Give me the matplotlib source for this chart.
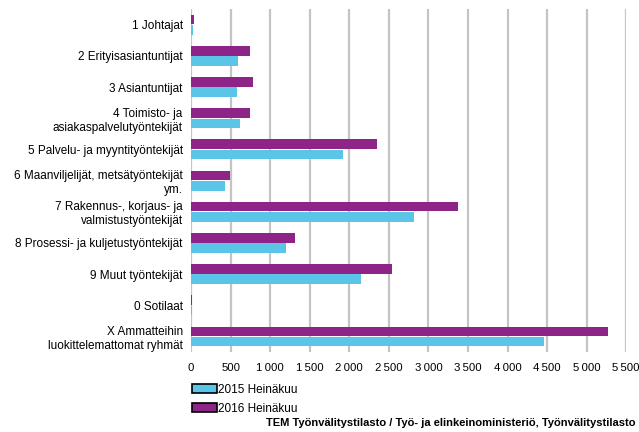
import matplotlib
matplotlib.use("Agg")
import matplotlib.pyplot as plt
import numpy as np
from matplotlib.ticker import FuncFormatter, MultipleLocator
from matplotlib.patches import Patch

plt.rcParams['font.family'] = ['Liberation Sans', 'DejaVu Sans']

categories = [
    "1 Johtajat",
    "2 Erityisasiantuntijat",
    "3 Asiantuntijat",
    "4 Toimisto- ja\nasiakaspalvelutyöntekijät",
    "5 Palvelu- ja myyntityöntekijät",
    "6 Maanviljelijät, metsätyöntekijät\nym.",
    "7 Rakennus-, korjaus- ja\nvalmistustyöntekijät",
    "8 Prosessi- ja kuljetustyöntekijät",
    "9 Muut työntekijät",
    "0 Sotilaat",
    "X Ammatteihin\nluokittelemattomat ryhmät",
]
values_2015 = [20, 595, 582, 620, 1922, 430, 2822, 1203, 2142, 12, 4456]
values_2016 = [40, 747, 785, 747, 2346, 494, 3380, 1316, 2542, 8, 5266]
series_labels = ["2015 Heinäkuu", "2016 Heinäkuu"]
source_text = "TEM Työnvälitystilasto / Työ- ja elinkeinoministeriö, Työnvälitystilasto"

col_2015 = "#5BC5E8"
col_2016 = "#8E2487"

fig = plt.figure(figsize=(6.39, 4.32), dpi=100)
ax = fig.add_axes([0.299, 0.185, 0.681, 0.794])

y = np.arange(len(categories))
h = 0.31
ax.barh(y - h / 2 - 0.01, values_2016, height=h, color=col_2016, zorder=3)
ax.barh(y + h / 2 + 0.01, values_2015, height=h, color=col_2015, zorder=3)

ax.set_ylim(len(categories) - 0.5, -0.5)
ax.set_xlim(0, 5500)
ax.xaxis.set_major_locator(MultipleLocator(500))
ax.xaxis.set_major_formatter(FuncFormatter(lambda v, p: f"{int(v):,}".replace(",", "\u2009")))
ax.set_yticks(y)
ax.set_yticklabels(categories, fontsize=8.5)
ax.tick_params(axis='x', labelsize=8.2, length=0, pad=8)
ax.tick_params(axis='y', length=0, pad=6)
ax.grid(axis='x', color='#c4c4c4', linewidth=1.6, zorder=0)
for s in ax.spines.values():
    s.set_visible(False)

handles = [Patch(facecolor=col_2015, edgecolor='black', linewidth=1.2),
           Patch(facecolor=col_2016, edgecolor='black', linewidth=1.2)]
fig.legend(handles, series_labels, loc='upper left', bbox_to_anchor=(0.293, 0.123),
           frameon=False, fontsize=8.5, handlelength=2.1, handleheight=0.8,
           handletextpad=0.12, labelspacing=0.6, borderaxespad=0)

fig.text(0.995, 0.01, source_text, ha='right', va='bottom', fontsize=8, fontweight='bold')

fig.savefig("out.png", dpi=100)
